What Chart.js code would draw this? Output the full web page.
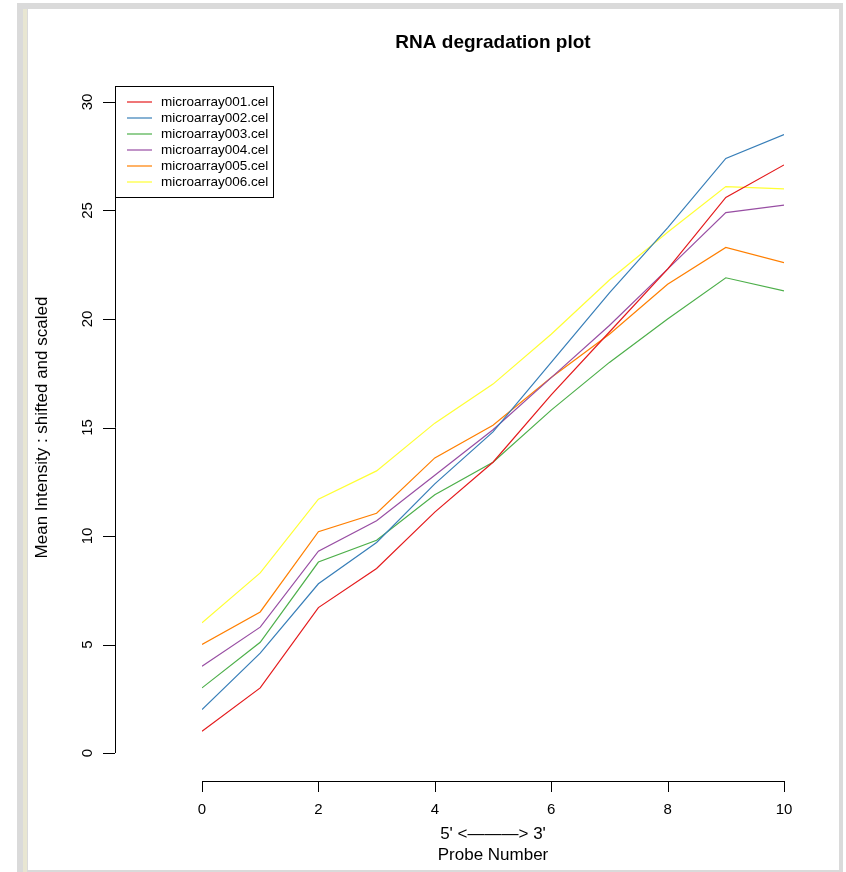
<!DOCTYPE html>
<html>
<head>
<meta charset="utf-8">
<title>RNA degradation plot</title>
<script src="https://cdn.jsdelivr.net/npm/chart.js@4"></script>
<style>
  html, body { margin: 0; padding: 0; background: #fff; }
  #frame  { position: absolute; left: 17px; top: 3px; width: 826px; height: 869px; background: #dadada; }
  #stripe { position: absolute; left: 23px; top: 9px; width: 4px; height: 863px; background: #e8e6d2; }
  #panel  { position: absolute; left: 28px; top: 9px; width: 811px; height: 861px; background: #fff; }
  #wrap   { position: absolute; left: 0; top: 0; width: 846px; height: 872px; }
</style>
</head>
<body>
<div id="frame"></div>
<div id="stripe"></div>
<div id="panel"></div>
<div id="wrap"><canvas id="chart" width="846" height="872"></canvas></div>
<script>
// Probe positions along the transcript (5' -> 3')
const probeNumbers = [0, 1, 2, 3, 4, 5, 6, 7, 8, 9, 10];

// Mean intensity per probe position, shifted and scaled, one array per chip
const microarray001 = [1.0, 3.0, 6.7, 8.5, 11.1, 13.4, 16.5, 19.4, 22.3, 25.6, 27.1];
const microarray002 = [2.0, 4.6, 7.8, 9.7, 12.4, 14.8, 18.0, 21.2, 24.2, 27.4, 28.5];
const microarray003 = [3.0, 5.1, 8.8, 9.8, 11.9, 13.4, 15.8, 18.0, 20.0, 21.9, 21.3];
const microarray004 = [4.0, 5.8, 9.3, 10.7, 12.8, 14.9, 17.3, 19.7, 22.3, 24.9, 25.25];
const microarray005 = [5.0, 6.5, 10.2, 11.05, 13.6, 15.1, 17.3, 19.3, 21.6, 23.3, 22.6];
const microarray006 = [6.0, 8.3, 11.7, 13.0, 15.2, 17.0, 19.3, 21.8, 24.0, 26.1, 26.0];

const sampleNames = ["microarray001.cel", "microarray002.cel", "microarray003.cel",
                     "microarray004.cel", "microarray005.cel", "microarray006.cel"];
const sampleSeries = [microarray001, microarray002, microarray003,
                      microarray004, microarray005, microarray006];
const sampleColors = ["#E41A1C", "#377EB8", "#4DAF4A", "#984EA3", "#FF7F00", "#FFFF33"];

// Axis ticks
const xTicks = [0, 2, 4, 6, 8, 10];
const yTicks = [0, 5, 10, 15, 20, 25, 30];

const FONT = '"Liberation Sans", Arial, Helvetica, sans-serif';

const datasets = sampleSeries.map((vals, i) => ({
  label: sampleNames[i],
  data: probeNumbers.map((p, j) => ({ x: p, y: vals[j] })),
  borderColor: sampleColors[i],
  backgroundColor: sampleColors[i],
  borderWidth: 1.2,
  pointRadius: 0,
  tension: 0,
  fill: false
}));

// Base-graphics style decorations: detached axes, rotated y labels, boxed legend
const baseGraphics = {
  id: 'baseGraphics',
  afterDraw(chart) {
    const ctx = chart.ctx;
    const xs = chart.scales.x, ys = chart.scales.y;
    const yAxisX = 115, xAxisY = 781;
    ctx.save();
    ctx.strokeStyle = '#000';
    ctx.fillStyle = '#000';
    ctx.lineWidth = 1;

    // x axis
    const x0 = xs.getPixelForValue(xTicks[0]);
    const x1 = xs.getPixelForValue(xTicks[xTicks.length - 1]);
    ctx.beginPath();
    ctx.moveTo(x0, xAxisY + 0.5); ctx.lineTo(x1, xAxisY + 0.5);
    xTicks.forEach(t => {
      const px = Math.round(xs.getPixelForValue(t)) + 0.5;
      ctx.moveTo(px, xAxisY); ctx.lineTo(px, xAxisY + 11);
    });
    ctx.stroke();
    ctx.font = '15px ' + FONT;
    ctx.textAlign = 'center';
    ctx.textBaseline = 'middle';
    xTicks.forEach(t => ctx.fillText(String(t), xs.getPixelForValue(t), 810));

    // y axis
    const yb = ys.getPixelForValue(yTicks[0]);
    const yt = ys.getPixelForValue(yTicks[yTicks.length - 1]);
    ctx.beginPath();
    ctx.moveTo(yAxisX + 0.5, yb); ctx.lineTo(yAxisX + 0.5, yt);
    yTicks.forEach(t => {
      const py = Math.round(ys.getPixelForValue(t)) + 0.5;
      ctx.moveTo(yAxisX, py); ctx.lineTo(yAxisX - 12, py);
    });
    ctx.stroke();
    yTicks.forEach(t => {
      ctx.save();
      ctx.translate(88, ys.getPixelForValue(t));
      ctx.rotate(-Math.PI / 2);
      ctx.fillText(String(t), 0, 0);
      ctx.restore();
    });

    // titles
    const cx = (x0 + x1) / 2;
    ctx.font = 'bold 19px ' + FONT;
    ctx.fillText('RNA degradation plot', cx, 43);
    ctx.font = '17px ' + FONT;
    ctx.fillText("5' <\u2014\u2014\u2014> 3'", cx, 834);
    ctx.fillText('Probe Number', cx, 855);
    ctx.save();
    ctx.translate(42, (yb + yt) / 2);
    ctx.rotate(-Math.PI / 2);
    ctx.fillText('Mean Intensity : shifted and scaled', 0, 0);
    ctx.restore();

    // legend
    const lx = 115.5, ly = 86.5, lw = 158, lh = 111;
    ctx.fillStyle = '#fff';
    ctx.fillRect(lx, ly, lw, lh);
    ctx.strokeStyle = '#000';
    ctx.strokeRect(lx, ly, lw, lh);
    ctx.font = '13.5px ' + FONT;
    ctx.textAlign = 'left';
    chart.data.datasets.forEach((ds, i) => {
      const ry = 102 + i * 16;
      ctx.strokeStyle = ds.borderColor;
      ctx.lineWidth = 1.2;
      ctx.beginPath();
      ctx.moveTo(127, ry); ctx.lineTo(152, ry);
      ctx.stroke();
      ctx.fillStyle = '#000';
      ctx.fillText(ds.label, 161, ry);
    });
    ctx.restore();
  }
};

new Chart(document.getElementById('chart'), {
  type: 'line',
  data: { datasets },
  options: {
    responsive: false,
    animation: false,
    layout: { padding: { left: 202, right: 62, top: 102, bottom: 119 } },
    plugins: { legend: { display: false }, title: { display: false }, tooltip: { enabled: false } },
    scales: {
      x: { type: 'linear', min: 0, max: 10, display: false },
      y: { type: 'linear', min: 0, max: 30, display: false }
    }
  },
  plugins: [baseGraphics]
});
</script>
</body>
</html>
